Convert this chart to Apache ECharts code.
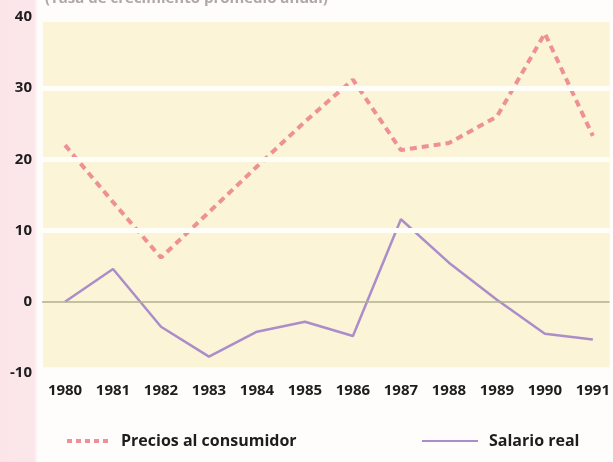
<!DOCTYPE html>
<html>
<head>
<meta charset="utf-8">
<script src="https://cdn.jsdelivr.net/npm/echarts@6/dist/echarts.min.js"></script>
<style>
html,body{margin:0;padding:0;}
body{background:linear-gradient(to right,#fbe5e8 0px,#fbe7ea 34px,#fefdfb 38px,#fefdfb 100%);}
#c{width:613px;height:462px;}
</style>
</head>
<body>
<div id="c"></div>
<script>
const years = [1980,1981,1982,1983,1984,1985,1986,1987,1988,1989,1990,1991];
const precios = [22,14,6.2,12.6,19,25.3,31.2,21.3,22.3,26,37.7,23.3];
const salario = [0,4.6,-3.5,-7.7,-4.2,-2.8,-4.8,11.6,5.5,0.3,-4.5,-5.3];
const yTicks = [-10,0,10,20,30,40];
const whiteBands = [10,20,30];
const seriesNames = ['Precios al consumidor','Salario real'];
const subtitle = '(Tasa de crecimiento promedio anual)';

const FONT = 'Open Sans';
const chart = echarts.init(document.getElementById('c'), null, {renderer:'canvas'});
chart.setOption({
  animation:false,
  backgroundColor:'transparent',
  title:{text:subtitle,left:40,top:-14,textStyle:{fontFamily:FONT,fontSize:15,fontWeight:'bold',color:'#b0a8a8'}},
  grid:{left:42,right:0,top:17,bottom:89},
  xAxis:{type:'value',min:1979.52,max:1991.35,
    axisLine:{show:false},axisTick:{show:false},splitLine:{show:false},
    axisLabel:{customValues:years,formatter:v=>String(v),margin:10,
      fontFamily:FONT,fontWeight:'bold',fontSize:15,color:'#1d1d1d'}},
  yAxis:{type:'value',min:-10,max:40,interval:10,
    axisLine:{show:false},axisTick:{show:false},splitLine:{show:false},
    axisLabel:{margin:10,fontFamily:FONT,fontWeight:'bold',fontSize:15,color:'#1d1d1d'}},
  legend:[
    {data:[seriesNames[0]],left:60,top:428,itemWidth:44,itemHeight:14,
      itemStyle:{opacity:0},lineStyle:{type:[5,4],width:4},
      textStyle:{fontFamily:FONT,fontWeight:'bold',fontSize:16,color:'#1d1d1d',padding:[0,0,0,5]}},
    {data:[seriesNames[1]],left:416,top:428,itemWidth:56,itemHeight:14,
      itemStyle:{opacity:0},
      textStyle:{fontFamily:FONT,fontWeight:'bold',fontSize:16,color:'#1d1d1d',padding:[0,0,0,6]}}
  ],
  series:[
    {type:'line',name:'_bg',data:[],z:1,silent:true,
      markArea:{silent:true,itemStyle:{color:'#fbf4d6'},
        data:[[{coord:[1979.54,-9.2]},{coord:[1991.35,39.3]}]]}},
    {type:'line',name:'_grid',data:[],z:1.5,silent:true,
      markLine:{silent:true,symbol:'none',label:{show:false},
        data:whiteBands.map(v=>({yAxis:v,lineStyle:{color:'#fffef9',width:5,type:'solid'}}))
          .concat([{yAxis:0,lineStyle:{color:'#b2b08e',width:1.5,type:'solid'}}])}},
    {type:'line',name:seriesNames[0],z:2,symbol:'none',
      data:years.map((y,i)=>[y,precios[i]]),
      lineStyle:{color:'#ee9096',width:4,type:[7,5]},itemStyle:{color:'#ee9096'}},
    {type:'line',name:seriesNames[1],z:3,symbol:'none',
      data:years.map((y,i)=>[y,salario[i]]),
      lineStyle:{color:'#ab8dc9',width:2.5,type:'solid'},itemStyle:{color:'#ab8dc9'}}
  ]
});
</script>
</body>
</html>
